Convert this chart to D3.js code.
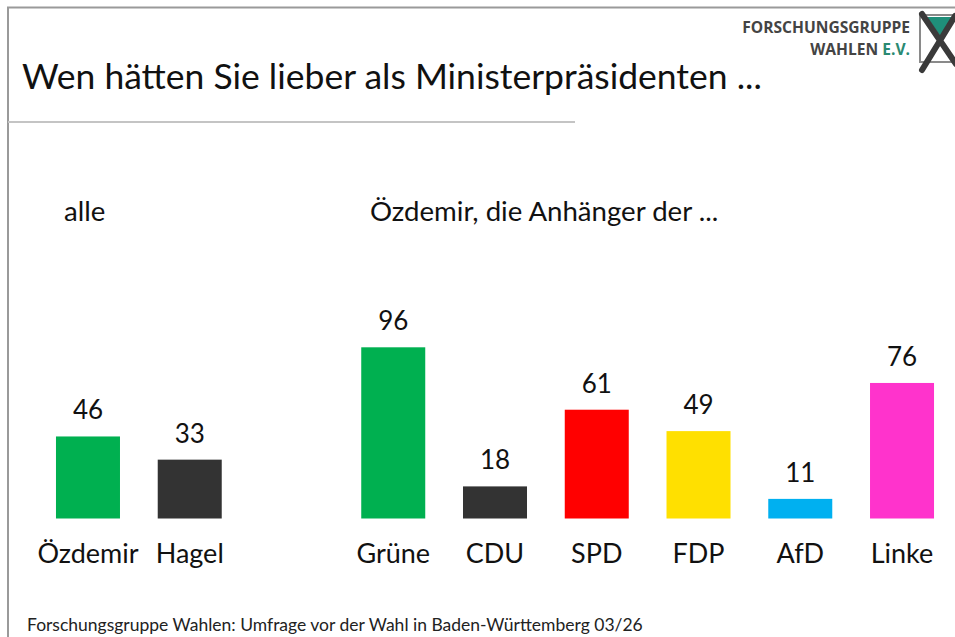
<!DOCTYPE html>
<meta charset="utf-8">
<script src="https://cdn.jsdelivr.net/npm/d3@7"></script>
<style>
    body { margin: 0; background: #fff; }
    text { font-family: Lato, "Open Sans", sans-serif; fill: #111; }
    .logo text { font-family: "Open Sans", sans-serif; font-weight: 700; fill: #444; }
</style>
<body>
<svg class="chart"></svg>
<script>
    ///////////////////////
    // Data
    var candidates = ["Özdemir", "Hagel"];
    var candidateValues = [46, 33];
    var candidateColors = ["#00B050", "#333333"];

    var parties = ["Grüne", "CDU", "SPD", "FDP", "AfD", "Linke"];
    var partyValues = [96, 18, 61, 49, 11, 76];
    var partyColors = ["#00B050", "#333333", "#FF0000", "#FFE000", "#00B0F0", "#FF33CC"];

    var title = "Wen hätten Sie lieber als Ministerpräsidenten ...";
    var groupLabels = ["alle", "Özdemir, die Anhänger der ..."];
    var source = "Forschungsgruppe Wahlen: Umfrage vor der Wahl in Baden-Württemberg 03/26";

    // one row per bar, a spacer slot separates the two groups
    var data = [];
    candidates.forEach(function(c, i) {
        data.push({ key: c, value: candidateValues[i], color: candidateColors[i] });
    });
    parties.forEach(function(p, i) {
        data.push({ key: p, value: partyValues[i], color: partyColors[i] });
    });

    ///////////////////////
    // Chart setup
    var width = 955, height = 637;
    var svg = d3.select(".chart")
        .attr("width", width)
        .attr("height", height);

    // frame (top and left edge)
    svg.append("path")
        .attr("d", "M8,637 V7.5 H955")
        .attr("fill", "none")
        .attr("stroke", "#9a9a9a")
        .attr("stroke-width", 2);

    // title + rule
    svg.append("text")
        .attr("x", 22)
        .attr("y", 89)
        .style("font-size", "35.5px")
        .text(title);

    svg.append("line")
        .attr("x1", 8).attr("x2", 575)
        .attr("y1", 122).attr("y2", 122)
        .attr("stroke", "#c4c4c4")
        .attr("stroke-width", 2);

    ///////////////////////
    // Scales
    var domain = candidates.concat(["_gap"], parties);
    var x = d3.scaleBand()
        .domain(domain)
        .range([37.1, 952.9])
        .paddingInner(0.371)
        .paddingOuter(0.1855);

    var y = d3.scaleLinear()
        .domain([0, 96])
        .range([518.5, 347.3]);

    // group labels
    svg.append("text")
        .attr("x", 64).attr("y", 221)
        .style("font-size", "27.6px")
        .text(groupLabels[0]);
    svg.append("text")
        .attr("x", 370).attr("y", 221)
        .style("font-size", "27.6px")
        .text(groupLabels[1]);

    ///////////////////////
    // Bars
    var bars = svg.append("g");
    bars.selectAll("rect")
        .data(data)
        .enter().append("rect")
        .attr("x", function(d) { return x(d.key); })
        .attr("width", x.bandwidth())
        .attr("y", function(d) { return y(d.value); })
        .attr("height", function(d) { return y(0) - y(d.value); })
        .attr("fill", function(d) { return d.color; });

    // value labels
    bars.selectAll(".val")
        .data(data)
        .enter().append("text")
        .attr("class", "val")
        .attr("text-anchor", "middle")
        .attr("x", function(d) { return x(d.key) + x.bandwidth() / 2; })
        .attr("y", function(d) { return y(d.value) - 17; })
        .style("font-size", "26px")
        .text(function(d) { return d.value; });

    // category labels
    bars.selectAll(".cat")
        .data(data)
        .enter().append("text")
        .attr("class", "cat")
        .attr("text-anchor", "middle")
        .attr("x", function(d) { return x(d.key) + x.bandwidth() / 2; })
        .attr("y", 563)
        .style("font-size", "27px")
        .text(function(d) { return d.key; });

    // source
    svg.append("text")
        .attr("x", 27).attr("y", 631)
        .style("font-size", "17.5px")
        .style("fill", "#222")
        .text(source);

    ///////////////////////
    // Logo
    var logo = svg.append("g").attr("class", "logo");
    logo.append("text")
        .attr("x", 910).attr("y", 33)
        .attr("text-anchor", "end")
        .style("font-size", "15.6px")
        .text("FORSCHUNGSGRUPPE");
    var l2 = logo.append("text")
        .attr("x", 910).attr("y", 55)
        .attr("text-anchor", "end")
        .style("font-size", "15.6px");
    l2.append("tspan").text("WAHLEN ");
    l2.append("tspan").style("fill", "#2a8a72").text("E.V.");

    logo.append("rect")
        .attr("x", 920).attr("y", 15)
        .attr("width", 36).attr("height", 47)
        .attr("fill", "#fff")
        .attr("stroke", "#8a8a8a")
        .attr("stroke-width", 2);
    logo.append("path")
        .attr("d", "M927,17 L953,17 L940,36 Z")
        .attr("fill", "#1f8f7a");
    logo.append("path")
        .attr("d", "M922,14 L956,64 M955,16 L922,70")
        .attr("stroke", "#3a3a3a")
        .attr("stroke-width", 6)
        .attr("stroke-linecap", "round");
</script>
</body>
